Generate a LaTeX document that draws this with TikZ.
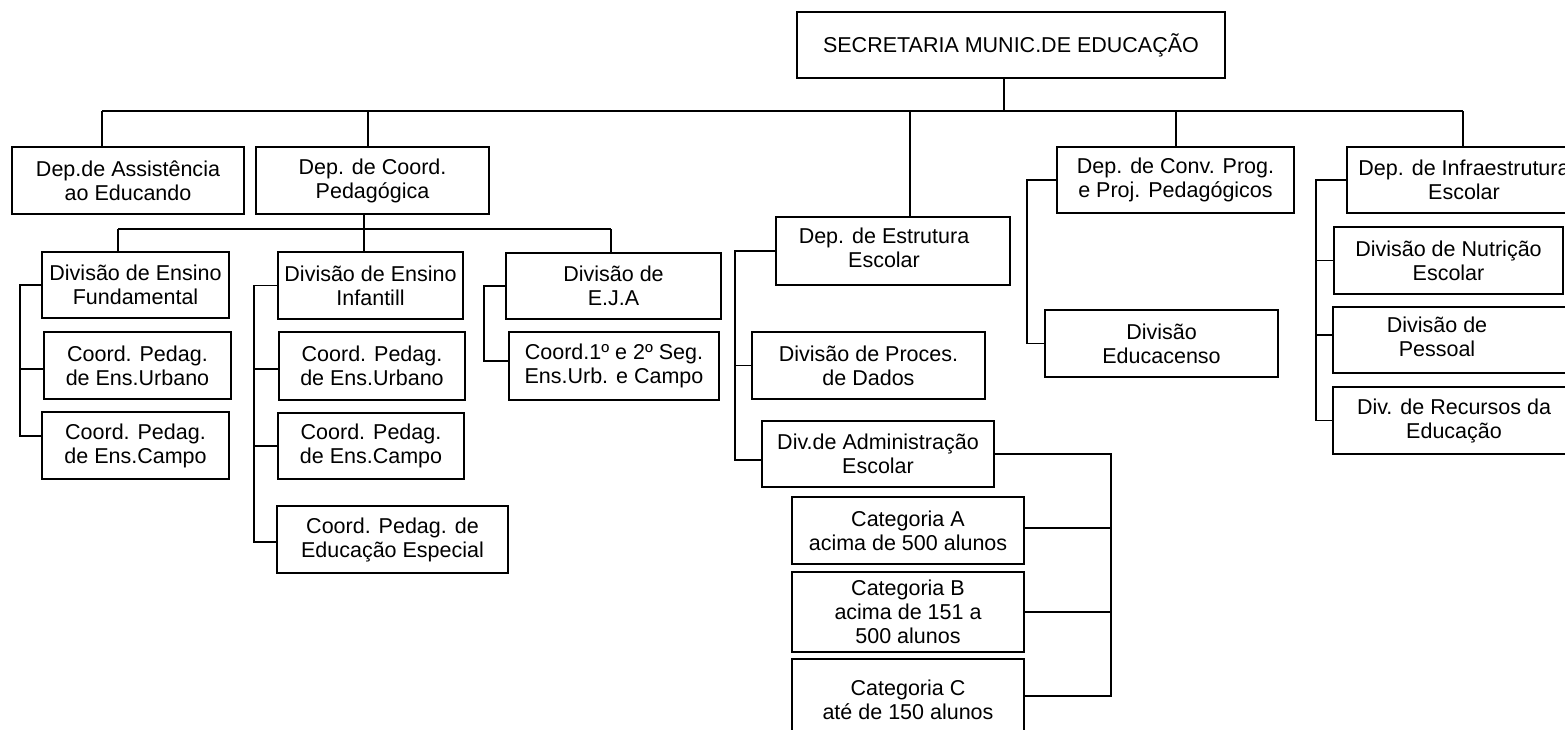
\documentclass[tikz,border=0pt]{standalone}
\usepackage{fontspec}
\setmainfont{Liberation Sans}
\usetikzlibrary{calc}
\begin{document}
\begin{tikzpicture}[x=1pt,y=-1pt,
  line width=1.7pt,
  base/.style={draw, line width=1.7pt, inner sep=0pt, font=\fontsize{21.5}{24}\selectfont},
  box/.style={base, align=center}]
\useasboundingbox (0,0) rectangle (1565,729);
% boxes
\node[box, minimum width=428, minimum height=66] (sec) at (1011,45) {SECRETARIA MUNIC.DE EDUCAÇÃO};
\node[box, minimum width=232, minimum height=67] (assist) at (128,180.5) {Dep.de Assistência\\ao Educando};
\node[box, minimum width=233, minimum height=67] (coord) at (372.5,180.5) {Dep. de Coord.\\Pedagógica};
\node[base, minimum width=234, minimum height=68] (estr) at (893,251) {\begin{tabular}{@{}c@{}}Dep. de Estrutura\\Escolar\end{tabular}\hspace*{18pt}};
\node[box, minimum width=237, minimum height=66] (conv) at (1175.5,180) {Dep. de Conv. Prog.\\e Proj. Pedagógicos};
\node[box, minimum width=234, minimum height=66] (infra) at (1464,180) {Dep. de Infraestrutura\\Escolar};
\node[box, minimum width=187, minimum height=66] (fund) at (135.5,285) {Divisão de Ensino\\Fundamental};
\node[box, minimum width=187, minimum height=67] (urb1) at (137.5,365.5) {Coord. Pedag.\\de Ens.Urbano};
\node[box, minimum width=187, minimum height=67] (campo1) at (135.5,445.5) {Coord. Pedag.\\de Ens.Campo};
\node[box, minimum width=185, minimum height=67] (infant) at (370.5,285.5) {Divisão de Ensino\\Infantill};
\node[box, minimum width=186, minimum height=68] (urb2) at (372,366) {Coord. Pedag.\\de Ens.Urbano};
\node[box, minimum width=186, minimum height=66] (campo2) at (371,446) {Coord. Pedag.\\de Ens.Campo};
\node[box, minimum width=231, minimum height=67] (esp) at (392.5,539.5) {Coord. Pedag. de\\Educação Especial};
\node[box, minimum width=215, minimum height=66] (eja) at (613.5,286) {Divisão de\\E.J.A};
\node[box, minimum width=210, minimum height=68] (coordone) at (614,366) {Coord.1º e 2º Seg.\\Ens.Urb. e Campo};
\node[box, minimum width=233, minimum height=67] (proc) at (868.5,365.5) {Divisão de Proces.\\de Dados};
\node[box, minimum width=232, minimum height=66] (adm) at (878,454) {Div.de Administração\\Escolar};
\node[box, minimum width=232, minimum height=67] (cata) at (908,530.5) {Categoria A\\acima de 500 alunos};
\node[box, minimum width=232, minimum height=80] (catb) at (908,612) {Categoria B\\acima de 151 a\\500 alunos};
\node[box, minimum width=232, minimum height=82] (catc) at (908,700) {Categoria C\\até de 150 alunos};
\node[box, minimum width=233, minimum height=67] (educ) at (1161.5,343.5) {Divisão\\Educacenso};
\node[box, minimum width=229, minimum height=67] (nutr) at (1448.5,260.5) {Divisão de Nutrição\\Escolar};
\node[base, minimum width=242, minimum height=66] (pess) at (1454,340) {\begin{tabular}{@{}c@{}}Divisão de\\Pessoal\end{tabular}\hspace*{34pt}};
\node[box, minimum width=242, minimum height=67] (recur) at (1454,420.5) {Div. de Recursos da\\Educação};

% main bar
\coordinate (b1) at (102,111);
\coordinate (b2) at (368,111);
\coordinate (b3) at (910,111);
\coordinate (b4) at (1176,111);
\coordinate (b5) at (1463,111);
\coordinate (s0) at (1004,111);
\draw (b1) -- (b5);
\draw (s0) -- (s0 |- sec.south);
\draw (b1) -- (b1 |- assist.north);
\draw (b2) -- (b2 |- coord.north);
\draw (b3) -- (b3 |- estr.north);
\draw (b4) -- (b4 |- conv.north);
\draw (b5) -- (b5 |- infra.north);

% pedagogical sub-bar
\coordinate (c1) at (118,229);
\coordinate (c2) at (364,229);
\coordinate (c3) at (611,229);
\draw (c1) -- (c3);
\draw (c2 |- coord.south) -- (c2 |- infant.north);
\draw (c1) -- (c1 |- fund.north);
\draw (c3) -- (c3 |- eja.north);

% Fundamental branch
\coordinate (v1) at (20,300);
\coordinate (u1w) at ([yshift=-3.5pt]urb1.west);
\coordinate (k1w) at ([yshift=9.5pt]campo1.west);
\draw (fund.west) -- (fund.west -| v1) -- (k1w -| v1) -- (k1w);
\draw (u1w) -- (u1w -| v1);

% Infantil branch
\coordinate (v2) at (254,300);
\coordinate (u2w) at ([yshift=-3pt]urb2.west);
\coordinate (ew) at ([yshift=-2.5pt]esp.west);
\draw (infant.west) -- (infant.west -| v2) -- (ew -| v2) -- (ew);
\draw (u2w) -- (u2w -| v2);
\draw (campo2.west) -- (campo2.west -| v2);

% EJA branch
\coordinate (v3) at (484,300);
\coordinate (ow) at ([yshift=5pt]coordone.west);
\draw (eja.west) -- (eja.west -| v3) -- (ow -| v3) -- (ow);

% Estrutura branch
\coordinate (v4) at (735,300);
\coordinate (aw) at ([yshift=-6pt]adm.west);
\draw (estr.west) -- (estr.west -| v4) -- (aw -| v4) -- (aw);
\draw (proc.west) -- (proc.west -| v4);

% Administracao branch
\coordinate (v5) at (1111,500);
\coordinate (cae) at ([yshift=2.5pt]cata.east);
\coordinate (cce) at ([yshift=4pt]catc.east);
\draw (adm.east) -- (adm.east -| v5) -- (cce -| v5) -- (cce);
\draw (cae) -- (cae -| v5);
\draw (catb.east) -- (catb.east -| v5);

% Conv branch
\coordinate (v6) at (1027,250);
\draw (conv.west) -- (conv.west -| v6) -- (educ.west -| v6) -- (educ.west);

% Infra branch
\coordinate (v7) at (1316,300);
\coordinate (pw) at ([yshift=5pt]pess.west);
\draw (infra.west) -- (infra.west -| v7) -- (recur.west -| v7) -- (recur.west);
\draw (nutr.west) -- (nutr.west -| v7);
\draw (pw) -- (pw -| v7);
\end{tikzpicture}
\end{document}
